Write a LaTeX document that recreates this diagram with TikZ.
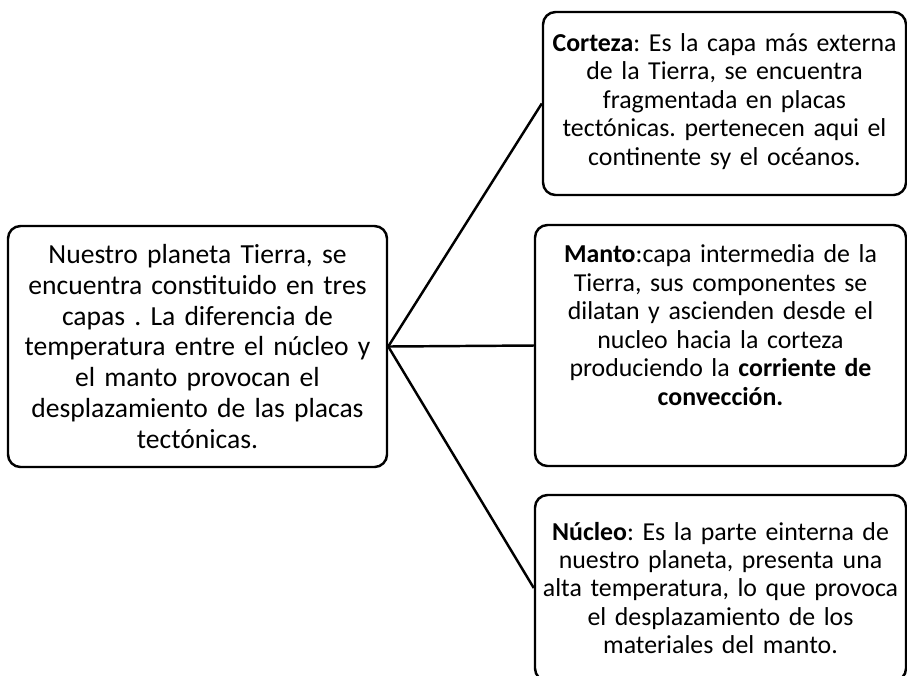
\documentclass[tikz,border=0pt]{standalone}
\usepackage{fontspec}
\setmainfont{Carlito}
\usetikzlibrary{positioning}

\begin{document}
\frenchspacing
\begin{tikzpicture}[
    caja/.style={draw, line width=1.4pt, rounded corners=0.25cm, align=center, inner sep=0pt},
    texto/.style={font=\fontsize{14.7}{16.2}\selectfont},
    linea/.style={line width=1.4pt}]
    \useasboundingbox (0,0) rectangle (18.14,-13.5);

    % Caja principal
    \node[caja, minimum width=7.58cm, minimum height=4.82cm, text width=7.5cm,
          font=\fontsize{15.7}{17.6}\selectfont] (tierra) at (3.95,-6.93) {
        Nuestro planeta Tierra, se\\
        encuentra constituido en tres\\
        capas . La diferencia de\\
        temperatura entre el núcleo y\\
        el manto provocan el\\
        desplazamiento de las placas\\
        tectónicas.};

    % Capas de la Tierra
    \node[caja, texto, minimum width=7.26cm, minimum height=3.66cm, text width=7.2cm] (corteza) at (14.49,-2.07) {
        \textbf{Corteza}: Es la capa más externa\\
        de la Tierra, se encuentra\\
        fragmentada en placas\\
        tectónicas. pertenecen aqui el\\
        continente sy el océanos.\\[-0.4cm]\mbox{}};
    \node[caja, texto, minimum width=7.42cm, minimum height=4.82cm, text width=7.35cm] (manto) at (14.41,-6.91) {
        \textbf{Manto}:capa intermedia de la\\
        Tierra, sus componentes se\\
        dilatan y ascienden desde el\\
        nucleo hacia la corteza\\
        produciendo la \textbf{corriente de}\\
        \textbf{convección.}\\[0.25cm]\mbox{}};
    \node[caja, texto, minimum width=7.42cm, minimum height=3.72cm, text width=7.35cm] (nucleo) at (14.41,-11.76) {
        \textbf{Núcleo}: Es la parte einterna de\\
        nuestro planeta, presenta una\\
        alta temperatura, lo que provoca\\
        el desplazamiento de los\\
        materiales del manto.};

    % Conexiones
    \draw[linea] (tierra.east) -- (corteza.west);
    \draw[linea] (tierra.east) -- (manto.west);
    \draw[linea] (tierra.east) -- (nucleo.west);
\end{tikzpicture}
\end{document}
